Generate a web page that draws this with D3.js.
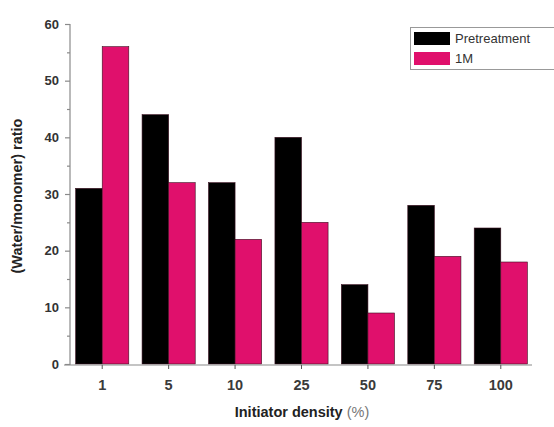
<!DOCTYPE html>
<html>
<head>
<meta charset="utf-8">
<script src="https://cdn.jsdelivr.net/npm/d3@7"></script>
<style>
  html, body { margin: 0; padding: 0; background: #fff; }
  svg { display: block; font-family: "Liberation Sans", Arial, sans-serif; }
</style>
</head>
<body>
<svg id="chart" width="554" height="427"></svg>
<script>
// Initiator density categories (%) and the two water/monomer ratio series
const categories = ["1", "5", "10", "25", "50", "75", "100"];
const pretreatment = [31, 44, 32, 40, 14, 28, 24];
const oneM = [56, 32, 22, 25, 9, 19, 18];
const seriesNames = ["Pretreatment", "1M"];
const seriesColors = ["#000000", "#e0106c"];
const yTicks = [0, 10, 20, 30, 40, 50, 60];

const svg = d3.select("#chart");
const y0 = 364, yTop = 24;

const x = d3.scaleBand().domain(categories).range([69, 534]).paddingInner(0.2).paddingOuter(0.1);
const xSub = d3.scaleBand().domain(seriesNames).range([0, x.bandwidth()]).padding(0);
const y = d3.scaleLinear().domain([0, 60]).range([y0, yTop]);

const rows = categories.map((c, i) => ({ cat: c, values: [pretreatment[i], oneM[i]] }));

// bars
const groups = svg.append("g").selectAll("g").data(rows).join("g")
  .attr("transform", d => `translate(${x(d.cat)},0)`);
groups.selectAll("rect").data(d => d.values.map((v, k) => ({ v, k })))
  .join("rect")
  .attr("x", d => xSub(seriesNames[d.k]))
  .attr("y", d => y(d.v))
  .attr("width", xSub.bandwidth())
  .attr("height", d => y0 - y(d.v))
  .attr("fill", d => seriesColors[d.k])
  .attr("stroke", "#3a1020")
  .attr("stroke-width", 0.6);

const axisColor = "#8a8a8a";

// y axis with major and minor ticks
const yAxis = svg.append("g").attr("transform", "translate(70,0)");
yAxis.call(d3.axisLeft(y).tickValues(yTicks).tickSize(5).tickPadding(6).tickFormat(d3.format("d")));
const minor = yAxis.append("g").call(d3.axisLeft(y).tickValues(d3.range(5, 60, 10)).tickSize(3).tickFormat(""));
minor.select(".domain").remove();
yAxis.select(".domain").attr("d", `M0,${y0 + 1}V${yTop}`).attr("stroke", axisColor).attr("stroke-width", 1.2);
yAxis.selectAll(".tick line").attr("stroke", axisColor).attr("stroke-width", 1.2);
yAxis.selectAll(".tick text").attr("font-size", 13).attr("font-weight", "bold").attr("fill", "#333");

// x axis along the baseline
const xAxis = svg.append("g").attr("transform", `translate(0,${y0 + 1})`);
xAxis.call(d3.axisBottom(x).tickSize(4).tickPadding(8));
xAxis.select(".domain").attr("d", "M64,0H532").attr("stroke", axisColor).attr("stroke-width", 1.2);
xAxis.selectAll(".tick line").attr("stroke", "#555").attr("stroke-width", 1);
xAxis.selectAll(".tick text").attr("font-size", 14.5).attr("font-weight", "bold").attr("fill", "#3a3a3a").attr("dy", "0.9em");

// axis titles
svg.append("text")
  .attr("transform", "translate(22,196) rotate(-90)")
  .attr("text-anchor", "middle")
  .attr("font-size", 14.5).attr("font-weight", "bold").attr("fill", "#222")
  .text("(Water/monomer) ratio");

const xt = svg.append("text")
  .attr("x", 302).attr("y", 417)
  .attr("text-anchor", "middle")
  .attr("font-size", 14.5).attr("fill", "#222");
xt.append("tspan").attr("font-weight", "bold").text("Initiator density ");
xt.append("tspan").attr("fill", "#777").text("(%)");

// legend
const legend = svg.append("g");
legend.append("rect")
  .attr("x", 410.5).attr("y", 27.5).attr("width", 160).attr("height", 42)
  .attr("fill", "#fff").attr("stroke", "#999").attr("stroke-width", 1);
seriesNames.forEach((name, k) => {
  legend.append("rect")
    .attr("x", 414).attr("y", 32 + k * 20).attr("width", 36).attr("height", 13)
    .attr("fill", seriesColors[k]);
  legend.append("text")
    .attr("x", 455).attr("y", 43 + k * 20)
    .attr("font-size", 13).attr("fill", "#333")
    .text(name);
});
</script>
</body>
</html>
